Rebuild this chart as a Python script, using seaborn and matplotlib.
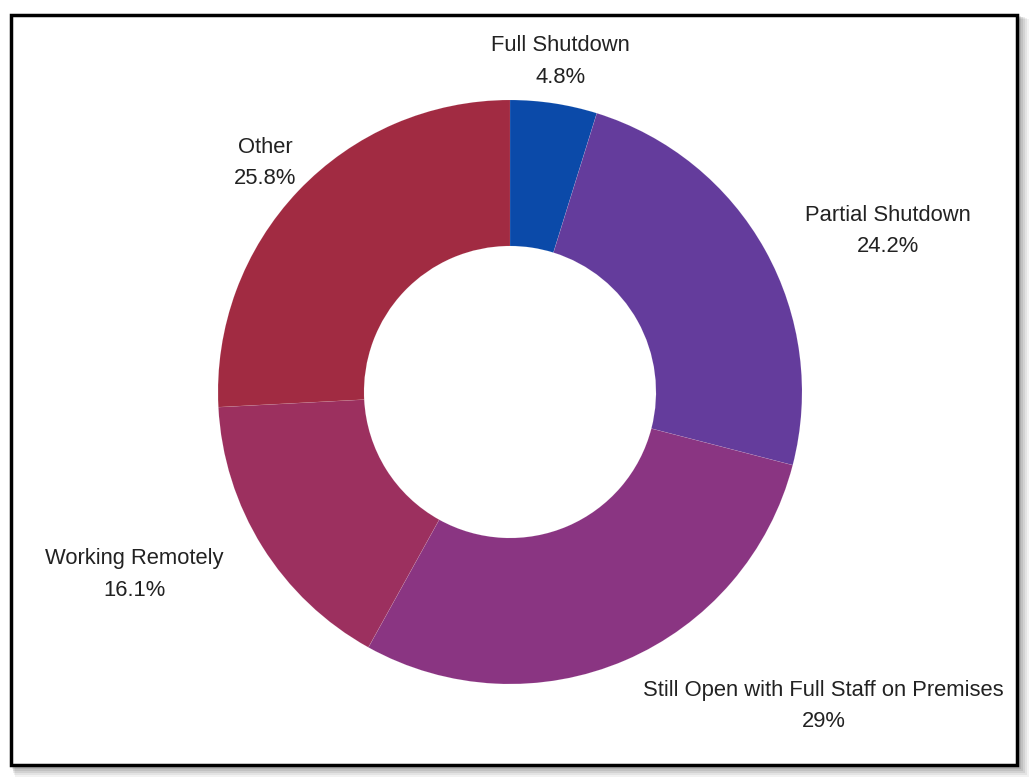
import numpy as np
import matplotlib
matplotlib.use("Agg")
import matplotlib.pyplot as plt
from matplotlib.patches import Rectangle
import seaborn as sns

categories = ["Full Shutdown", "Partial Shutdown", "Still Open with Full Staff on Premises",
              "Working Remotely", "Other"]
values = [4.8, 24.2, 29, 16.1, 25.8]
value_labels = ["4.8%", "24.2%", "29%", "16.1%", "25.8%"]
colors = ["#0b4aa9", "#643c9c", "#8a3582", "#9c305f", "#a12b42"]
aligns = ["center", "left", "left", "right", "center"]

sns.set_theme(style="white")
plt.rcParams["font.family"] = ["Liberation Sans", "DejaVu Sans"]
palette = sns.color_palette(colors)

W, H, DPI = 1032, 782, 100
fig = plt.figure(figsize=(W / DPI, H / DPI), dpi=DPI)
fig.patch.set_facecolor("white")

def frac_rect(x0, y0, x1, y1, **kw):
    return Rectangle((x0 / W, 1 - y1 / H), (x1 - x0) / W, (y1 - y0) / H,
                     transform=fig.transFigure, **kw)

for i, a in enumerate([0.05, 0.06, 0.07, 0.08, 0.09, 0.10]):
    off = 12 - 2 * i
    fig.patches.append(frac_rect(11 + off * 0.3, 15 + off * 0.3, 1017 + off, 765 + off,
                                 facecolor="black", edgecolor="none", alpha=a, zorder=0))
fig.patches.append(frac_rect(11, 15, 1017, 765, facecolor="white", edgecolor="black",
                             linewidth=2.5, zorder=1))

cx, cy, R = 510, 392, 292
ax = fig.add_axes([0, 0, 1, 1], zorder=2)

wedges, _ = ax.pie(values, colors=palette, startangle=90, counterclock=False,
                   radius=1.0, wedgeprops=dict(width=0.5, linewidth=0.3, edgecolor="#ffffff30"))
ax.set_xlim(-cx / R, (W - cx) / R)
ax.set_ylim(-(H - cy) / R, cy / R)
ax.set_aspect("auto")
ax.axis("off")
ax.patch.set_alpha(0)

total = sum(values)
cum = 0
lab_r = 338 / R
for cat, v, vl, ha in zip(categories, values, value_labels, aligns):
    mid = 90 - (cum + v / 2) / total * 360
    cum += v
    t = np.deg2rad(mid)
    ax.annotate(f"{cat}\n{vl}", xy=(lab_r * np.cos(t), lab_r * np.sin(t)),
                xytext=(0, -2.5), textcoords="offset points", ha=ha, va="center",
                multialignment="center", fontsize=15.8, color="#222222", linespacing=1.65)

fig.savefig("out.png", dpi=DPI)
